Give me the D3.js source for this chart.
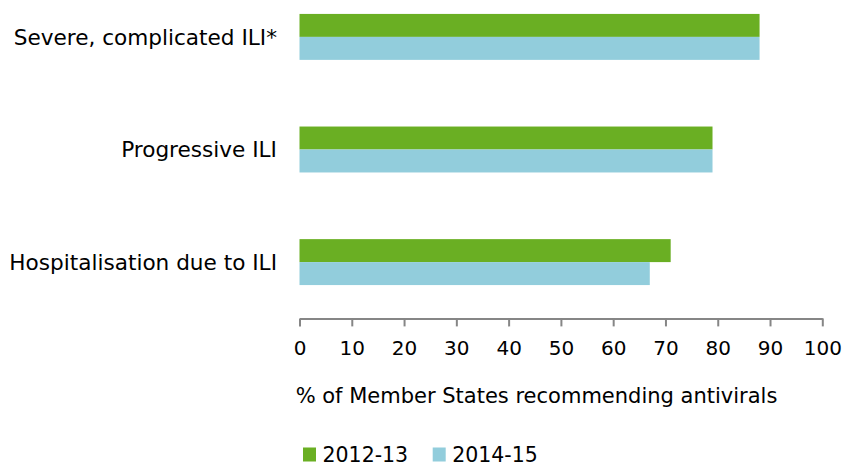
<!DOCTYPE html>
<html>
<head>
<meta charset="utf-8">
<script src="https://cdn.jsdelivr.net/npm/d3@7"></script>
<style>
  body { margin: 0; background: #fff; }
  text { font-family: "DejaVu Sans", Verdana, sans-serif; fill: #000; }
</style>
</head>
<body>
<div id="chart"></div>
<script>
// categories, top to bottom
var categories = ["Severe, complicated ILI*", "Progressive ILI", "Hospitalisation due to ILI"];
var seriesNames = ["2012-13", "2014-15"];
var seriesColors = ["#6aaf23", "#92cddc"];
// % of Member States recommending antivirals
var values2012 = [88, 79, 71];
var values2014 = [88, 79, 67];
var xTicks = [0, 10, 20, 30, 40, 50, 60, 70, 80, 90, 100];

var width = 844, height = 466;

var svg = d3.select("#chart")
  .append("svg")
    .attr("width", width)
    .attr("height", height);

var data = categories.map(function(c, i) {
  return { cat: c, vals: [values2012[i], values2014[i]] };
});

// x scale
var x = d3.scaleLinear()
  .domain([0, 100])
  .range([299.5, 822.3]);

// category bands
var y = d3.scaleBand()
  .domain(categories)
  .range([-19.4, 318.4])
  .paddingInner(0.592)
  .paddingOuter(0.296);

var ySub = d3.scaleBand()
  .domain(seriesNames)
  .range([0, y.bandwidth()]);

// bars
var groups = svg.selectAll("g.cat")
  .data(data)
  .enter()
  .append("g")
    .attr("class", "cat")
    .attr("transform", function(d) { return "translate(0," + y(d.cat) + ")"; });

groups.selectAll("rect")
  .data(function(d) { return d.vals.map(function(v, j) { return { s: seriesNames[j], v: v, c: seriesColors[j] }; }); })
  .enter()
  .append("rect")
    .attr("x", x(0))
    .attr("y", function(d) { return ySub(d.s); })
    .attr("width", function(d) { return x(d.v) - x(0); })
    .attr("height", ySub.bandwidth())
    .attr("fill", function(d) { return d.c; });

// category labels
svg.selectAll("text.cat")
  .data(categories)
  .enter()
  .append("text")
    .attr("class", "cat")
    .attr("x", 277)
    .attr("y", function(d) { return y(d) + y.bandwidth() / 2; })
    .attr("dy", "0.36em")
    .attr("text-anchor", "end")
    .style("font-size", "21.6px")
    .text(function(d) { return d; });

// x axis
var xAxis = svg.append("g")
  .attr("transform", "translate(0,318.4)")
  .call(d3.axisBottom(x).tickValues(xTicks).tickSize(8).tickSizeOuter(0).tickPadding(14));
xAxis.select(".domain").attr("stroke", "#868686").attr("stroke-width", 2);
xAxis.selectAll(".tick line").attr("stroke", "#868686").attr("stroke-width", 2);
xAxis.selectAll(".tick text")
  .style("font-family", "DejaVu Sans, Verdana, sans-serif")
  .style("font-size", "20px")
  .attr("fill", "#000");

// axis title
svg.append("text")
  .attr("x", 536.5)
  .attr("y", 403)
  .attr("text-anchor", "middle")
  .style("font-size", "21px")
  .text("% of Member States recommending antivirals");

// legend
var legend = svg.selectAll("g.legend")
  .data(seriesNames)
  .enter()
  .append("g")
    .attr("class", "legend")
    .attr("transform", function(d, i) { return "translate(" + (303 + i * 129.7) + ",447.5)"; });
legend.append("rect")
  .attr("width", 13)
  .attr("height", 14)
  .attr("fill", function(d, i) { return seriesColors[i]; });
legend.append("text")
  .attr("x", 19.5)
  .attr("y", 14.5)
  .style("font-size", "20.5px")
  .text(function(d) { return d; });
</script>
</body>
</html>
